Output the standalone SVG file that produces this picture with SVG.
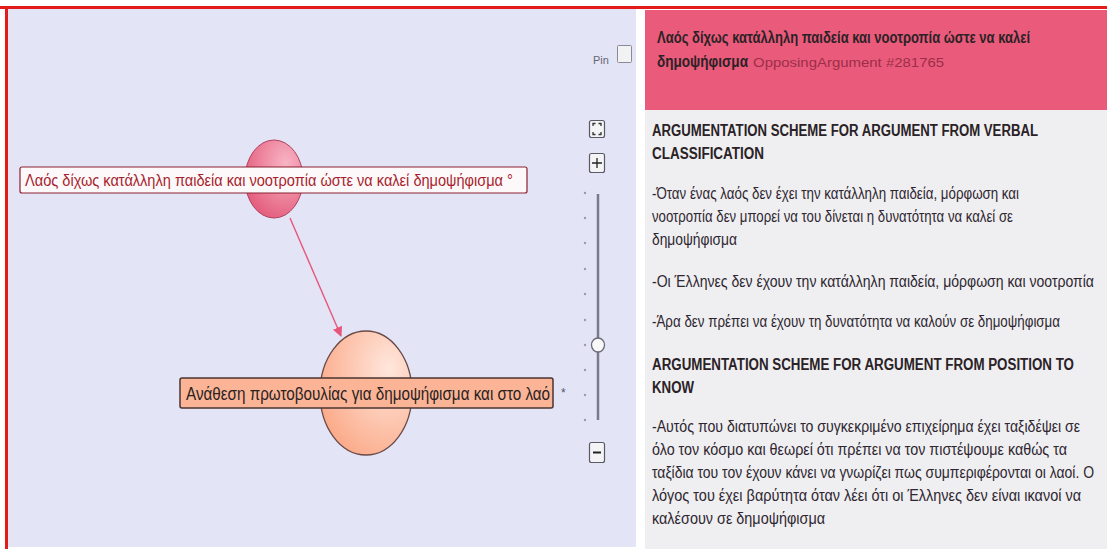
<svg xmlns="http://www.w3.org/2000/svg" width="1107" height="549" viewBox="0 0 1107 549">
<defs>
<style>
.t{font-family:"Liberation Sans",Arial,sans-serif;}
.b{font-family:"Liberation Sans",Arial,sans-serif;font-weight:bold;fill:#2a2226;font-size:16px;}
.p{font-family:"Liberation Sans",Arial,sans-serif;fill:#2e2630;font-size:16px;}
.btn{fill:#f4f4f6;stroke:#5a5a66;stroke-width:1.2;}
.dot{fill:#9a9aa8;}
</style>
<radialGradient id="gPink" cx="0.7" cy="0.3" r="0.8">
<stop offset="0" stop-color="#f8b4c4"/>
<stop offset="1" stop-color="#e35a7a"/>
</radialGradient>
<radialGradient id="gPeach" cx="0.75" cy="0.3" r="0.85">
<stop offset="0" stop-color="#ffe6dc"/>
<stop offset="1" stop-color="#fba886"/>
</radialGradient>
<marker id="arr" viewBox="0 0 10 10" refX="9" refY="5" markerWidth="10" markerHeight="10" markerUnits="userSpaceOnUse" orient="auto">
<path d="M0,0 L10,5 L0,10 z" fill="#e8557a"/>
</marker>
</defs>

<rect x="0" y="0" width="1107" height="549" fill="#ffffff"/>
<rect x="8" y="9" width="628" height="538" fill="#e4e4f7"/>
<rect x="0" y="6" width="1107" height="3" fill="#e41b1b"/>
<rect x="5" y="6" width="3" height="543" fill="#e41b1b"/>

<rect x="645" y="10" width="462" height="100" fill="#ea5b7b"/>
<rect x="645" y="110" width="462" height="439" fill="#efeff1"/>

<g id="connectors">
<line x1="290" y1="218" x2="341" y2="336" stroke="#e8557a" stroke-width="1.4" marker-end="url(#arr)"/>
</g>

<g id="node-top">
<ellipse cx="274" cy="179" rx="29" ry="39" fill="url(#gPink)" stroke="#b04060" stroke-width="1"/>
<rect x="20" y="167" width="507" height="26" rx="2" fill="#fdf9fa" stroke="#8c2030" stroke-width="1.2"/>
<text class="t" transform="translate(25,186) scale(0.82,1)" x="0" y="0" font-size="16" fill="#a81e2c" textLength="595" lengthAdjust="spacingAndGlyphs">Λαός δίχως κατάλληλη παιδεία και νοοτροπία ώστε να καλεί δημοψήφισμα °</text>
</g>

<g id="node-bottom">
<ellipse cx="366" cy="393" rx="46" ry="62" fill="url(#gPeach)" stroke="#6a4a46" stroke-width="1.3"/>
<rect x="180" y="378" width="373" height="30" rx="2" fill="#fbb596" stroke="#4a3432" stroke-width="1.5"/>
<text class="t" transform="translate(186,400) scale(0.82,1)" x="0" y="0" font-size="18" fill="#2a2222" textLength="444" lengthAdjust="spacingAndGlyphs">Ανάθεση πρωτοβουλίας για δημοψήφισμα και στο λαό</text>
<text class="t" x="561" y="397" font-size="12" fill="#555566">*</text>
</g>

<g id="controls">
<text class="t" x="593" y="64" font-size="11" fill="#666670">Pin</text>
<rect x="617.5" y="45.5" width="14" height="17" rx="1" fill="#f2f2f4" stroke="#8a8a96"/>
<rect x="589.5" y="120.5" width="15" height="17" rx="2" class="btn"/>
<path d="M593,126 v-2.5 h2.5 M598.5,123.5 h2.5 v2.5 M601,132 v2.5 h-2.5 M595.5,134.5 h-2.5 v-2.5" fill="none" stroke="#333" stroke-width="1.3"/>
<rect x="589.5" y="153.5" width="15" height="19" rx="2" class="btn"/>
<path d="M597,158 v10 M592,163 h10" stroke="#222" stroke-width="1.3"/>
<line x1="598" y1="194" x2="598" y2="420" stroke="#7a7a88" stroke-width="2.5"/>
<g class="dot">
<circle cx="585" cy="193" r="1.2"/><circle cx="585" cy="218" r="1.2"/><circle cx="585" cy="243" r="1.2"/><circle cx="585" cy="269" r="1.2"/><circle cx="585" cy="294" r="1.2"/><circle cx="585" cy="320" r="1.2"/><circle cx="585" cy="345" r="1.2"/><circle cx="585" cy="370" r="1.2"/><circle cx="585" cy="395" r="1.2"/><circle cx="585" cy="420" r="1.2"/>
</g>
<ellipse cx="598" cy="345" rx="6.5" ry="7" fill="#f8f8f8" stroke="#6a6a78" stroke-width="1.3"/>
<rect x="589.5" y="442.5" width="15" height="20" rx="2" class="btn"/>
<path d="M593,452.5 h8" stroke="#222" stroke-width="2"/>
</g>

<g id="details" transform="translate(652,0) scale(0.82,1)">
<text class="b" x="6.1" y="43" textLength="455" lengthAdjust="spacingAndGlyphs">Λαός δίχως κατάλληλη παιδεία και νοοτροπία ώστε να καλεί</text>
<text class="b" x="6.1" y="67" textLength="111" lengthAdjust="spacingAndGlyphs">δημοψήφισμα</text>
<text class="t" x="123.2" y="67" font-size="12" fill="#9c2e48" textLength="233" lengthAdjust="spacingAndGlyphs">OpposingArgument #281765</text>

<text class="b" x="0" y="136" textLength="470.7" lengthAdjust="spacingAndGlyphs">ARGUMENTATION SCHEME FOR ARGUMENT FROM VERBAL</text>
<text class="b" x="0" y="159" textLength="136.6" lengthAdjust="spacingAndGlyphs">CLASSIFICATION</text>
<text class="p" x="0" y="199" textLength="447.6" lengthAdjust="spacingAndGlyphs">-Όταν ένας λαός δεν έχει την κατάλληλη παιδεία, μόρφωση και</text>
<text class="p" x="0" y="222" textLength="440.2" lengthAdjust="spacingAndGlyphs">νοοτροπία δεν μπορεί να του δίνεται η δυνατότητα να καλεί σε</text>
<text class="p" x="0" y="245" textLength="103.7" lengthAdjust="spacingAndGlyphs">δημοψήφισμα</text>
<text class="p" x="0" y="287" textLength="539" lengthAdjust="spacingAndGlyphs">-Οι Έλληνες δεν έχουν την κατάλληλη παιδεία, μόρφωση και νοοτροπία</text>
<text class="p" x="0" y="327" textLength="497.6" lengthAdjust="spacingAndGlyphs">-Άρα δεν πρέπει να έχουν τη δυνατότητα να καλούν σε δημοψήφισμα</text>
<text class="b" x="0" y="370" textLength="514.6" lengthAdjust="spacingAndGlyphs">ARGUMENTATION SCHEME FOR ARGUMENT FROM POSITION TO</text>
<text class="b" x="0" y="393" textLength="51.2" lengthAdjust="spacingAndGlyphs">KNOW</text>
<text class="p" x="0" y="432" textLength="522" lengthAdjust="spacingAndGlyphs">-Αυτός που διατυπώνει το συγκεκριμένο επιχείρημα έχει ταξιδέψει σε</text>
<text class="p" x="0" y="455" textLength="506.1" lengthAdjust="spacingAndGlyphs">όλο τον κόσμο και θεωρεί ότι πρέπει να τον πιστέψουμε καθώς τα</text>
<text class="p" x="0" y="478" textLength="539" lengthAdjust="spacingAndGlyphs">ταξίδια του τον έχουν κάνει να γνωρίζει πως συμπεριφέρονται οι λαοί. Ο</text>
<text class="p" x="0" y="501" textLength="523.2" lengthAdjust="spacingAndGlyphs">λόγος του έχει βαρύτητα όταν λέει ότι οι Έλληνες δεν είναι ικανοί να</text>
<text class="p" x="0" y="524" textLength="211" lengthAdjust="spacingAndGlyphs">καλέσουν σε δημοψήφισμα</text>
</g>
</svg>
